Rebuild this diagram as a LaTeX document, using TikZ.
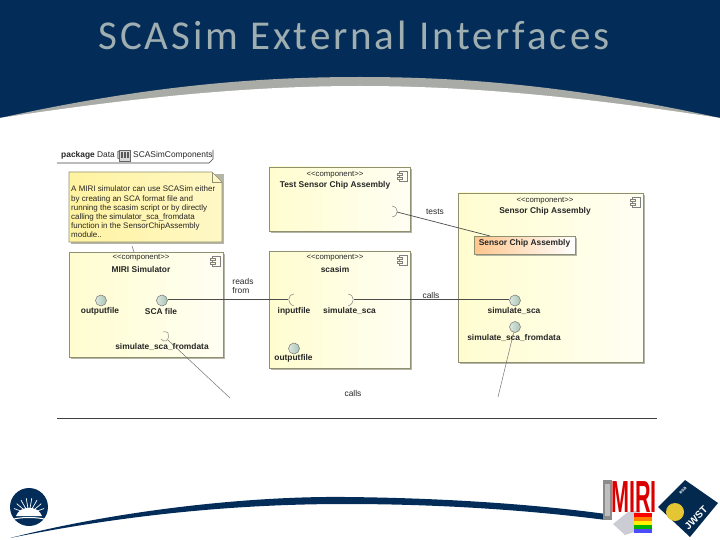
\documentclass[tikz,border=0pt]{standalone}
\usepackage{fontspec}
\setmainfont{Liberation Sans}
\newfontfamily\titlefont[LetterSpace=7]{Carlito}
\usetikzlibrary{positioning}

\definecolor{navyband}{HTML}{032D58}
\definecolor{greyband}{HTML}{A8ABA6}
\definecolor{titlegrey}{HTML}{9FAEB0}
\definecolor{paleyellow}{HTML}{FFFDCF}
\definecolor{notefill}{HTML}{FFF3A0}
\definecolor{boxedge}{HTML}{8F9070}
\definecolor{shadowgrey}{HTML}{B5B5A8}
\definecolor{portfill}{HTML}{A8C4B4}

\tikzset{
  lbl/.style={font=\fontsize{8.4}{9.5}\selectfont, inner sep=0pt, text=black!85},
  boldlbl/.style={lbl, font=\fontsize{8.4}{9.5}\selectfont\bfseries},
  typelbl/.style={lbl, font=\fontsize{7.8}{9}\selectfont},
  ball/.style={circle, draw=black!55, left color=white!60!portfill, right color=portfill, line width=0.5pt, minimum size=11pt, inner sep=0pt},
  wire/.style={draw=black!70, line width=0.7pt},
  thinwire/.style={draw=black!55, line width=0.5pt},
  socket/.style={draw=black!50, line width=0.5pt}
}

\begin{document}
\begin{tikzpicture}[x=1pt, y=-1pt]
    \useasboundingbox (0,0) rectangle (720,540);

    % Header band
    \fill[navyband] (0,0) rectangle (720,118);
    \fill[greyband] (0,118) .. controls (150,85) and (260,77) .. (360,77) .. controls (460,77) and (570,85) .. (720,118) -- cycle;
    \fill[white] (0,118) .. controls (150,95) and (260,86) .. (360,86) .. controls (460,86) and (570,95) .. (720,118) -- (720,130) -- (0,130) -- cycle;
    \node[font=\titlefont\fontsize{41}{46}\selectfont, text=titlegrey, inner sep=0pt] (title) at (354,35) {SCASim External Interfaces};

    % Package tab
    \draw[black!75, line width=0.6pt] (57,163) -- (209,163) -- (213,159) -- (213,150);
    \node[lbl, anchor=west] (pkg) at (61,155.5) {\textbf{package} Data [};
    \draw[black!60, fill=black!15, line width=0.4pt] (119,150) rectangle (130,161);
    \foreach \i in {121,124,127} {
      \fill[black!65] (\i,152) rectangle ++(2,6);
    }
    \node[lbl, anchor=west] (pkgname) at (133,155.5) {SCASimComponents};

    % Component boxes
    \foreach \xa/\ya/\xb/\yb in {269/167/410/231, 269/251/410/368, 69/252/223/357, 458/193/643/362} {
      \fill[shadowgrey] (\xa+2,\ya+2) rectangle (\xb+2,\yb+2);
      \draw[draw=boxedge, line width=0.6pt, shading angle=135, left color=paleyellow, right color=white!75!paleyellow] (\xa,\ya) rectangle (\xb,\yb);
      % component icon
      \draw[black!50, line width=0.5pt] (\xb-11,\ya+4) rectangle (\xb-3,\ya+14);
      \draw[black!50, fill=paleyellow, line width=0.5pt] (\xb-13,\ya+6) rectangle (\xb-8,\ya+8);
      \draw[black!50, fill=paleyellow, line width=0.5pt] (\xb-13,\ya+10) rectangle (\xb-8,\ya+12);
    }

    % Note
    \fill[shadowgrey] (71,174) rectangle (224,244);
    \draw[draw=boxedge, line width=0.6pt, shading angle=135, left color=notefill, right color=white!40!notefill] (69,172) -- (212,172) -- (222,182) -- (222,242) -- (69,242) -- cycle;
    \draw[boxedge, line width=0.5pt] (212,172) -- (212,182) -- (222,182);
    \node[lbl, anchor=north west, align=left, font=\fontsize{8}{9.1}\selectfont] (note) at (71,186) {A MIRI simulator can use SCASim either\\by creating an SCA format file and\\running the scasim script or by directly\\calling the simulator\_sca\_fromdata\\function in the SensorChipAssembly\\module..};

    % Inner part
    \fill[shadowgrey] (476,238) rectangle (577,256);
    \draw[draw=boxedge, line width=0.6pt, left color=orange!45, right color=white] (474,236) rectangle (575,254);
    \node[boldlbl] (partname) at (524.5,243) {Sensor Chip Assembly};

    % Box titles
    \node[typelbl] (testtype) at (335,175) {<{}<component>{}>};
    \node[boldlbl] (testname) at (335,185) {Test Sensor Chip Assembly};
    \node[typelbl] (simtype) at (335,258) {<{}<component>{}>};
    \node[boldlbl] (simname) at (335,269) {scasim};
    \node[typelbl] (miritype) at (141,258) {<{}<component>{}>};
    \node[boldlbl] (miriname) at (141,269) {MIRI Simulator};
    \node[typelbl] (scatype) at (545,201) {<{}<component>{}>};
    \node[boldlbl] (scaname) at (545,211) {Sensor Chip Assembly};

    % Ports
    \node[ball] (outmiri) at (101,300.5) {};
    \node[ball] (scafile) at (162,300.5) {};
    \node[ball] (outsim) at (294,348.5) {};
    \node[ball] (simsca) at (515,300.5) {};
    \node[ball] (simdata) at (515,327) {};

    \node[boldlbl] (outmirilbl) at (100,311) {outputfile};
    \node[boldlbl] (scafilelbl) at (161,311) {SCA file};
    \node[boldlbl] (fromdatalbl) at (162,347) {simulate\_sca\_fromdata};
    \node[boldlbl] (inlbl) at (294,311) {inputfile};
    \node[boldlbl] (simlbl) at (349.5,311) {simulate\_sca};
    \node[boldlbl] (outsimlbl) at (293.5,358) {outputfile};
    \node[boldlbl] (simscalbl) at (514,311) {simulate\_sca};
    \node[boldlbl] (simdatalbl) at (514,338) {simulate\_sca\_fromdata};

    % Sockets
    \coordinate (testsock) at (397,212);
    \coordinate (insock) at (288,299);
    \coordinate (simsock) at (354,299);
    \coordinate (datasock) at (168,340);
    \draw[socket] (392,206) .. controls (399,207) and (399,216) .. (392,217);
    \draw[socket] (294,294) .. controls (287,295) and (287,304) .. (294,306);
    \draw[socket] (348,294) .. controls (355,295) and (355,304) .. (348,306);
    \draw[socket] (161,339) .. controls (164,343) and (170,342) .. (168,333) .. controls (167,332) and (165,331) .. (163,332);

    % Connectors
    \coordinate (partedge) at (490,236);
    \coordinate (datafree) at (230,398);
    \coordinate (ballfree) at (498,397);
    \coordinate (noteend) at (132,246);
    \coordinate (miritop) at (134,252);
    \draw[wire] (scafile.east |- insock) -- (insock);
    \draw[wire] (simsock) -- (simsock -| simsca.west);
    \draw[wire] (testsock) -- (partedge);
    \draw[thinwire] (datasock) -- (datafree);
    \draw[thinwire] (simdata) -- (ballfree);
    \draw[thinwire] (noteend) -- (miritop);

    % Connector labels
    \node[lbl] (testslbl) at (435,212) {tests};
    \node[lbl, align=left] (readslbl) at (243,286) {reads\\from};
    \node[lbl] (callslbl) at (431,295) {calls};
    \node[lbl] (callsbelow) at (353,393) {calls};

    % Dividing line
    \draw[black!75, line width=0.6pt] (57,418) -- (657,418);

    % Footer band
    \fill[navyband] (10,538) .. controls (120,510) and (250,496) .. (345,497) .. controls (450,498) and (540,505) .. (606,514) -- (606,520) .. controls (520,509) and (430,504) .. (345,504) .. controls (230,504) and (120,516) .. (10,538) -- cycle;

    % Sunrise logo
    \fill[navyband] (29,507) circle (19);
    \foreach \a in {-70,-50,...,70} {
      \draw[white, line width=0.7pt] (29,514) -- ++(\a-90:16);
    }
    \fill[white] (16,516) .. controls (20,505) and (38,505) .. (42,516) -- cycle;
    \draw[white, line width=1pt] (14,519) .. controls (22,517) and (36,517) .. (44,519);

    % MIRI logo
    \fill[black!45] (603,480) rectangle (612,520);
    \fill[black!25] (605,484) rectangle (610,516);
    \fill[blue!15!black!20] (613,524) -- (628,512) -- (640,510) -- (640,530) -- (625,535) -- cycle;
    \node[font=\fontsize{30}{30}\selectfont\bfseries, text=red!85!black, inner sep=0pt, xscale=0.72, yscale=1.5] (mirilogo) at (634,497) {MIRI};
    \foreach \yy/\cc in {513/red, 517/orange, 521/yellow, 525/green!70!black, 529/blue!70!white} {
      \fill[\cc] (634,\yy) rectangle (652,\yy+4);
    }

    % JWST logo
    \fill[navyband!90!black] (658,507) -- (685,480) -- (718,503) -- (690,537) -- cycle;
    \fill[yellow!55!brown] (675,512) circle (9);
    \node[font=\fontsize{5}{5}\selectfont\bfseries, text=white, inner sep=0pt, rotate=45] (esalogo) at (683,491) {esa};
    \node[font=\fontsize{10}{10}\selectfont\bfseries, text=white, inner sep=0pt, rotate=45] (jwstlogo) at (696,518) {JWST};

\end{tikzpicture}
\end{document}
